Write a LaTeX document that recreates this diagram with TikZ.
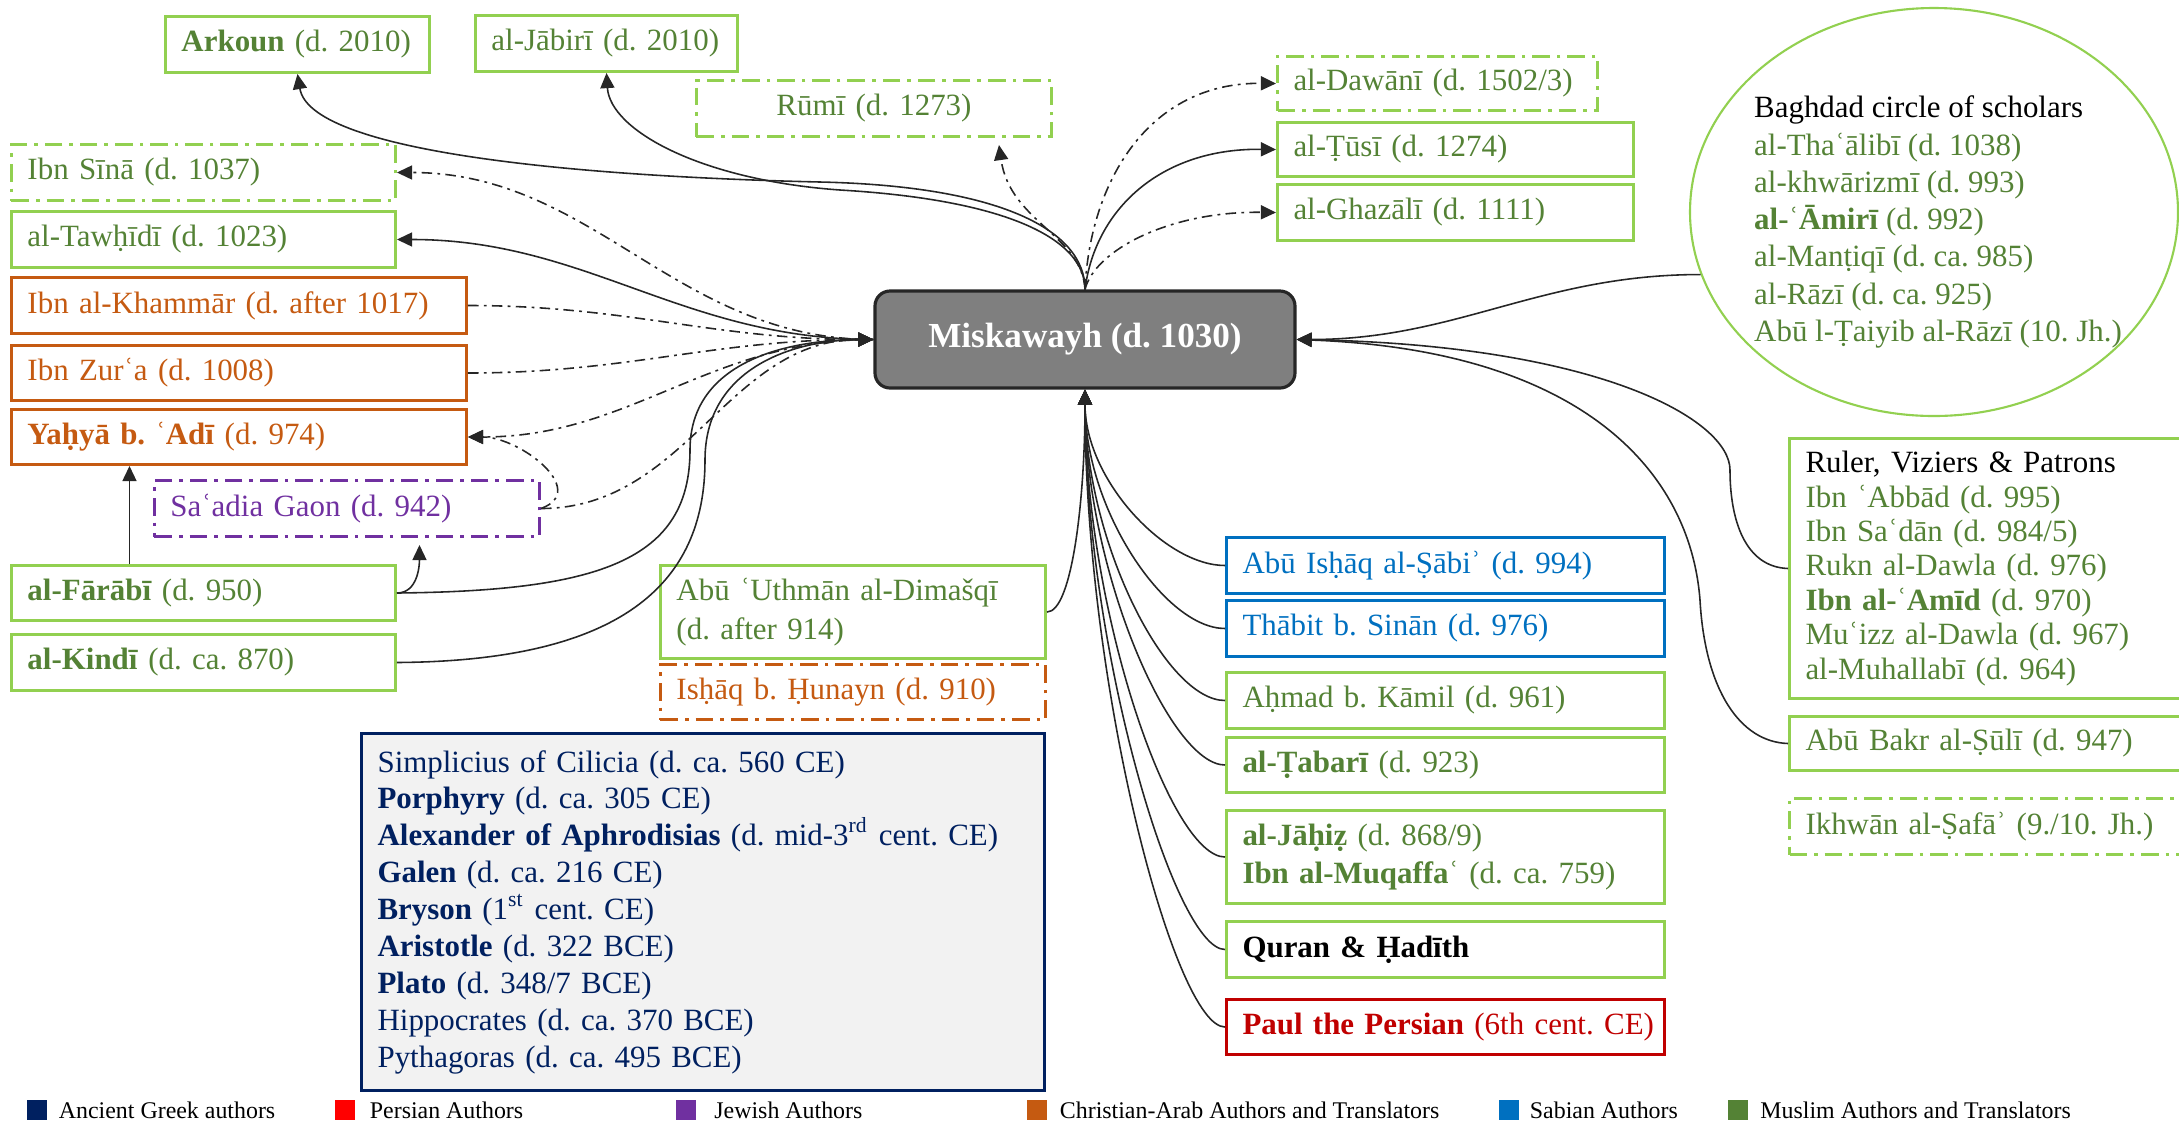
\documentclass[tikz,border=0pt]{standalone}
\usepackage{fontspec}
\setmainfont{Liberation Serif}
\frenchspacing
\usetikzlibrary{arrows.meta,shapes.geometric,positioning}

\definecolor{grnline}{RGB}{146,208,80}
\definecolor{grntxt}{RGB}{84,130,53}
\definecolor{chrarab}{RGB}{197,90,17}
\definecolor{sabian}{RGB}{0,112,192}
\definecolor{jewish}{RGB}{112,48,160}
\definecolor{persian}{RGB}{192,0,0}
\definecolor{persleg}{RGB}{255,0,0}
\definecolor{navy}{RGB}{0,32,96}
\definecolor{greekfill}{RGB}{242,242,242}
\definecolor{miskfill}{RGB}{127,127,127}

\begin{document}
\begin{tikzpicture}[x=0.1mm,y=-0.1mm,
    font=\fontsize{8.8}{10.5}\selectfont,
    >={Triangle[length=4.3pt,width=4pt]},
    box/.style={draw,rectangle,line width=0.85pt,anchor=north west,align=left,inner xsep=1.6mm,inner ysep=0pt},
    sz/.style 2 args={text width=#1mm+0.4mm,minimum height=#2mm},
    muslim/.style={box,draw=grnline,text=grntxt},
    christ/.style={box,draw=chrarab,text=chrarab},
    sab/.style={box,draw=sabian,text=sabian},
    dd/.style={dash pattern=on 5pt off 2pt on 1pt off 2pt},
    link/.style={line width=0.45pt,black!85},
    dlink/.style={link,dash pattern=on 3pt off 1.5pt on 0.8pt off 1.5pt},
    legsq/.style={minimum size=2mm,inner sep=0pt},
    legtxt/.style={font=\fontsize{6.8}{8}\selectfont,inner sep=0pt}]
    \useasboundingbox (0,0) rectangle (2179,1121);

    % centre
    \node[draw=black!85,fill=miskfill,rounded corners=1.5mm,line width=0.9pt,minimum width=42mm,minimum height=9.7mm,
        text=white,font=\fontsize{10}{12}\selectfont\bfseries] (misk) at (1085,339.5) {Miskawayh (d. 1030)};

    % later reception
    \node[muslim,sz={22.8}{5.6}] (arkoun) at (164,15) {\textbf{Arkoun} (d. 2010)};
    \node[muslim,sz={22.6}{5.6}] (jabiri) at (474,14) {al-Jābirī (d. 2010)};
    \node[muslim,dd,sz={31.9}{5.6},align=center] (rumi) at (695,79) {Rūmī (d. 1273)};
    \node[muslim,dd,sz={28.4}{5.4}] (dawani) at (1276,55) {al-Dawānī (d. 1502/3)};
    \node[muslim,sz={32}{5.4}] (tusi) at (1276,121) {al-Ṭūsī (d. 1274)};
    \node[muslim,sz={32}{5.6}] (ghazali) at (1276,183) {al-Ghazālī (d. 1111)};

    % Baghdad circle
    \node[ellipse,draw=grnline,line width=0.6pt,minimum width=48.8mm,minimum height=40.8mm,inner sep=0pt] (bag) at (1934,212) {};
    \node[align=left,text=grntxt,inner sep=0pt,font=\fontsize{8.8}{10.6}\selectfont] (bagtxt) at (1938,222)
        {\textcolor{black}{Baghdad circle of scholars}\\al-Thaʿālibī (d. 1038)\\al-khwārizmī (d. 993)\\\textbf{al-ʿĀmirī} (d. 992)\\
         al-Manṭiqī (d. ca. 985)\\al-Rāzī (d. ca. 925)\\Abū l-Ṭaiyib al-Rāzī (10. Jh.)};

    % left column
    \node[muslim,dd,sz={34.8}{5.6}] (ibnsina) at (10,143) {Ibn Sīnā (d. 1037)};
    \node[muslim,sz={34.8}{5.6}] (tawhidi) at (10,210) {al-Tawḥīdī (d. 1023)};
    \node[christ,sz={41.9}{5.6}] (khammar) at (10,276) {Ibn al-Khammār (d. after 1017)};
    \node[christ,sz={41.9}{5.5}] (zura) at (10,344) {Ibn Zurʿa (d. 1008)};
    \node[christ,sz={41.9}{5.5}] (yahya) at (10,408) {\textbf{Yaḥyā b. ʿAdī} (d. 974)};
    \node[box,dd,draw=jewish,text=jewish,sz={34.9}{5.6}] (saadia) at (153,479) {Saʿadia Gaon (d. 942)};
    \node[muslim,sz={34.8}{5.5}] (farabi) at (10,564) {\textbf{al-Fārābī} (d. 950)};
    \node[muslim,sz={34.8}{5.6}] (kindi) at (10,633) {\textbf{al-Kindī} (d. ca. 870)};

    % middle
    \node[muslim,sz={34.9}{9.3},font=\fontsize{8.8}{11}\selectfont] (uthman) at (659,564) {Abū ʿUthmān al-Dimašqī\\(d. after 914)};
    \node[christ,dd,sz={34.9}{5.5}] (ishaq) at (659,663) {Isḥāq b. Ḥunayn (d. 910)};
    \node[box,draw=navy,fill=greekfill,text=navy,line width=0.9pt,sz={64.7}{35.7}] (greek) at (360,732)
        {Simplicius of Cilicia (d. ca. 560 CE)\\\textbf{Porphyry} (d. ca. 305 CE)\\
         \textbf{Alexander of Aphrodisias} (d. mid-3\textsuperscript{rd} cent. CE)\\\textbf{Galen} (d. ca. 216 CE)\\
         \textbf{Bryson} (1\textsuperscript{st} cent. CE)\\\textbf{Aristotle} (d. 322 BCE)\\\textbf{Plato} (d. 348/7 BCE)\\
         Hippocrates (d. ca. 370 BCE)\\Pythagoras (d. ca. 495 BCE)};

    % right column
    \node[sab,sz={40.2}{5.6}] (sabi) at (1225,536) {Abū Isḥāq al-Ṣābiʾ (d. 994)};
    \node[sab,sz={40.2}{5.6}] (thabit) at (1225,599) {Thābit b. Sinān (d. 976)};
    \node[muslim,sz={40.2}{5.6}] (ahmad) at (1225,671) {Aḥmad b. Kāmil (d. 961)};
    \node[muslim,sz={40.2}{5.5}] (tabari) at (1225,736) {\textbf{al-Ṭabarī} (d. 923)};
    \node[muslim,sz={40.2}{9.3},font=\fontsize{8.8}{11}\selectfont] (jahiz) at (1225,809) {\textbf{al-Jāḥiẓ} (d. 868/9)\\\textbf{Ibn al-Muqaffaʿ} (d. ca. 759)};
    \node[muslim,text=black,sz={40.2}{5.6}] (quran) at (1225,920) {\textbf{Quran \& Ḥadīth}};
    \node[box,draw=persian,text=persian,sz={40.2}{5.5}] (paul) at (1225,998) {\mbox{\textbf{Paul the Persian} (6th cent. CE)}};

    % patrons
    \node[muslim,sz={40.4}{26},font=\fontsize{8.8}{9.8}\selectfont] (ruler) at (1788,437)
        {\textcolor{black}{Ruler, Viziers \& Patrons}\\Ibn ʿAbbād (d. 995)\\Ibn Saʿdān (d. 984/5)\\Rukn al-Dawla (d. 976)\\
         \textbf{Ibn al-ʿAmīd} (d. 970)\\Muʿizz al-Dawla (d. 967)\\al-Muhallabī (d. 964)};
    \node[muslim,sz={40.4}{5.4}] (abubakr) at (1788,715) {Abū Bakr al-Ṣūlī (d. 947)};
    \node[muslim,dd,sz={40.4}{5.6}] (ikhwan) at (1788,797) {Ikhwān al-Ṣafāʾ (9./10. Jh.)};

    % top links
    \draw[link,->] (misk.north) .. controls (1085,230) and (1000,186) .. (820,182) .. controls (560,176) and (310,150) .. (arkoun.south);
    \draw[link,->] (misk.north) .. controls (1085,240) and (1010,200) .. (840,190) .. controls (700,180) and (610,130) .. (jabiri.south);
    \draw[dlink,->] (misk.north) .. controls (1082,235) and (1010,222) .. ([shift={(125,7)}]rumi.south);
    \draw[dlink,->] (misk.north) .. controls (1090,180) and (1150,82) .. (dawani.west);
    \draw[link,->] (misk.north) .. controls (1095,210) and (1160,148) .. (tusi.west);
    \draw[dlink,->] (misk.north) .. controls (1095,250) and (1170,211) .. (ghazali.west);

    % left links
    \draw[dlink,->] (misk.west) to[out=180,in=0] (ibnsina.east);
    \draw[link,->] (misk.west) to[out=180,in=0] (tawhidi.east);
    \draw[dlink,->] (khammar.east) to[out=0,in=180] (misk.west);
    \draw[dlink,->] (zura.east) to[out=0,in=180] (misk.west);
    \draw[dlink,->] (misk.west) to[out=180,in=0] (yahya.east);
    \draw[dlink,->] (saadia.east) to[out=20,in=0,looseness=1.3] (yahya.east);
    \draw[dlink,->] (saadia.east) to[out=0,in=180] (misk.west);
    \draw[link,->] (farabi.east) .. controls (600,591) and (690,560) .. (690,450) .. controls (690,365) and (780,340) .. (misk.west);
    \draw[link,->] (kindi.east) .. controls (620,661) and (705,585) .. (705,460) .. controls (705,370) and (790,340) .. (misk.west);
    \draw[link,->] ([xshift=-7.4mm]farabi.north) -- ([xshift=-7.4mm]farabi.north |- yahya.south);
    \draw[link,->] (farabi.east) to[out=0,in=-90] ([xshift=7.25mm,yshift=-0.7mm]saadia.south);

    % right links
    \draw[link,->] (bag.195) to[out=180,in=0] (misk.east);
    \draw[link,->] (ruler.west) .. controls (1745,567) and (1730,520) .. (1730,470) .. controls (1730,420) and (1600,345) .. (misk.east);
    \draw[link,->] (abubakr.west) .. controls (1740,742) and (1705,690) .. (1700,600) .. controls (1690,470) and (1580,350) .. (misk.east);

    % bottom links
    \draw[link,->] (uthman.east) .. controls +(25,0) and +(0,110) .. (misk.south);
    \draw[link,->] (sabi.west) .. controls +(-60,0) and +(0,90) .. (misk.south);
    \draw[link,->] (thabit.west) .. controls +(-60,0) and +(0,120) .. (misk.south);
    \draw[link,->] (ahmad.west) .. controls +(-60,0) and +(0,150) .. (misk.south);
    \draw[link,->] (tabari.west) .. controls +(-55,0) and +(0,180) .. (misk.south);
    \draw[link,->] (jahiz.west) .. controls +(-55,0) and +(0,220) .. (misk.south);
    \draw[link,->] (quran.west) .. controls +(-50,0) and +(0,260) .. (misk.south);
    \draw[link,->] (paul.west) .. controls +(-50,0) and +(0,300) .. (misk.south);

    % legend
    \node[legsq,fill=navy] (lgA) at (36.5,1110) {};
    \node[legtxt,right=1.1mm of lgA] (lgAt) {Ancient Greek authors};
    \node[legsq,fill=persleg] (lgB) at (344.5,1110) {};
    \node[legtxt,right=1.4mm of lgB] (lgBt) {Persian Authors};
    \node[legsq,fill=jewish] (lgC) at (686,1110) {};
    \node[legtxt,right=1.7mm of lgC] (lgCt) {Jewish Authors};
    \node[legsq,fill=chrarab] (lgD) at (1036.5,1110) {};
    \node[legtxt,right=1.2mm of lgD] (lgDt) {Christian-Arab Authors and Translators};
    \node[legsq,fill=sabian] (lgE) at (1508.5,1110) {};
    \node[legtxt,right=1mm of lgE] (lgEt) {Sabian Authors};
    \node[legsq,fill=grntxt] (lgF) at (1738,1110) {};
    \node[legtxt,right=1.1mm of lgF] (lgFt) {Muslim Authors and Translators};
\end{tikzpicture}
\end{document}
